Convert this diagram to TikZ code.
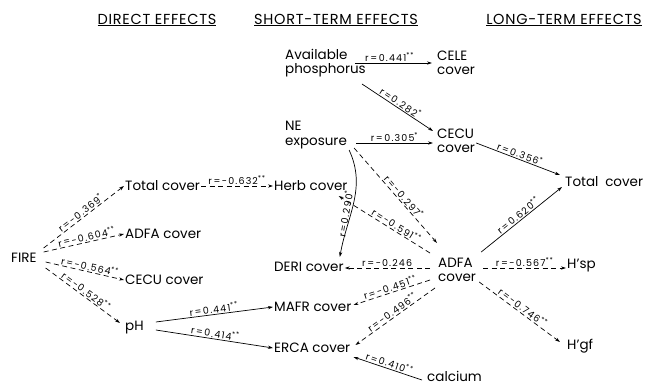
\documentclass[tikz,border=0pt]{standalone}
\usepackage{fontspec}
\setmainfont{Poppins}
\usetikzlibrary{arrows.meta,positioning}

\newcommand{\rval}[2]{r\,=\,#1\textsuperscript{#2}}

\begin{document}
\begin{tikzpicture}[x=1pt,y=-1pt,
  var/.style={font=\fontsize{13.5}{14.5}\selectfont,inner sep=1pt,align=left,anchor=west},
  head/.style={font=\fontsize{14.5}{15}\selectfont\addfontfeature{LetterSpace=5}},
  posarrow/.style={draw,line width=0.7pt,-{Stealth[length=5pt,width=3.2pt]}},
  negarrow/.style={posarrow,dash pattern=on 5pt off 3.5pt},
  rlabel/.style={font=\fontsize{9.5}{10}\selectfont\addfontfeature{LetterSpace=12},sloped,above,inner sep=1pt}]
  \useasboundingbox (0,0) rectangle (649,385);
  % column headings
  \node[head] (hdirect) at (157,20) {\underline{DIRECT EFFECTS}};
  \node[head] (hshort) at (336,20) {\underline{SHORT-TERM EFFECTS}};
  \node[head] (hlong) at (564,20) {\underline{LONG-TERM EFFECTS}};
  % variables
  \node[var] (fire) at (10,258) {FIRE};
  \node[var] (totL) at (124,186) {Total cover};
  \node[var] (adfaL) at (124,234) {ADFA cover};
  \node[var] (cecuL) at (124,280) {CECU cover};
  \node[var] (ph) at (124,328) {pH};
  \node[var] (herb) at (273,186) {Herb cover};
  \node[var] (avp) at (284,63) {Available\\phosphorus};
  \node[var] (cele) at (436,63) {CELE\\cover};
  \node[var] (ne) at (284,135) {NE\\exposure};
  \node[var] (cecuM) at (436,141) {CECU\\cover};
  \node[var] (deri) at (273,267) {DERI cover};
  \node[var] (adfaM) at (437,270) {ADFA\\cover};
  \node[var] (mafr) at (273,307) {MAFR cover};
  \node[var] (erca) at (273,348) {ERCA cover};
  \node[var] (calc) at (426,376) {calcium};
  \node[var] (totR) at (564,182) {Total\enspace cover};
  \node[var] (hsp) at (566,266) {H'sp};
  \node[var] (hgf) at (566,346) {H'gf};
  % direct effects of fire
  \draw[negarrow] ([shift={(6,-10)}]fire.east) -- node[rlabel]{\rval{-0.369}{*}} (totL.west);
  \draw[negarrow] ([shift={(6,-6)}]fire.east) -- node[rlabel,pos=0.55]{\rval{-0.604}{**}} (adfaL.west);
  \draw[negarrow] ([shift={(8,4)}]fire.east) -- node[rlabel,pos=0.55]{\rval{-0.564}{**}} (cecuL.west);
  \draw[negarrow] ([shift={(8,10)}]fire.east) -- node[rlabel]{\rval{-0.528}{**}} ([shift={(-4,-5)}]ph.west);
  % short-term effects
  \draw[negarrow] (totL.east) -- node[rlabel]{\rval{-0.632}{**}} (herb.west);
  \draw[posarrow] ([shift={(11,-6)}]ph.east) -- node[rlabel]{\rval{0.441}{**}} (mafr.west);
  \draw[posarrow] ([shift={(11,2)}]ph.east) -- node[rlabel]{\rval{0.414}{**}} (erca.west);
  \draw[posarrow] ([shift={(-12,0)}]avp.east) -- node[rlabel,pos=0.45]{\rval{0.441}{**}} ([shift={(-4,0)}]cele.west);
  \draw[posarrow] ([shift={(-5,21)}]avp.east) -- node[rlabel]{\rval{0.282}{*}} ([shift={(-3,-10)}]cecuM.west);
  \draw[posarrow] ([shift={(8,8)}]ne.east) -- node[rlabel]{\rval{0.305}{*}} ([shift={(-3,2)}]cecuM.west);
  \draw[negarrow] ([shift={(6,13)}]ne.east) -- node[rlabel,pos=0.55]{\rval{-0.297}{*}} ([shift={(0,-27)}]adfaM.west);
  \draw[posarrow] ([shift={(1,15)}]ne.east) to[out=-65,in=80]
    node[pos=0.62,rotate=80,anchor=south,font=\fontsize{9.5}{10}\selectfont\addfontfeature{LetterSpace=12},inner sep=1pt]{\rval{0.290}{*}}
    ([shift={(-5,-10)}]deri.east);
  \draw[negarrow] ([shift={(-7,-17)}]adfaM.west) -- node[rlabel,pos=0.4]{\rval{-0.591}{**}} ([shift={(-10,10)}]herb.east);
  \draw[negarrow] ([shift={(-7,-2)}]adfaM.west) -- node[rlabel]{\rval{-0.246}{}} ([shift={(0,1)}]deri.east);
  \draw[negarrow] ([shift={(-7,10)}]adfaM.west) -- node[rlabel]{\rval{-0.451}{**}} ([shift={(1,-2)}]mafr.east);
  \draw[negarrow] ([shift={(-2,18)}]adfaM.west) -- node[rlabel]{\rval{-0.496}{**}} ([shift={(4,-3)}]erca.east);
  \draw[posarrow] ([shift={(-4,4)}]calc.west) -- node[rlabel]{\rval{0.410}{**}} ([shift={(2,9)}]erca.east);
  % long-term effects
  \draw[posarrow] ([shift={(0,2)}]cecuM.east) -- node[rlabel]{\rval{0.356}{*}} ([shift={(-4,-7)}]totR.west);
  \draw[posarrow] ([shift={(4,-18)}]adfaM.east) -- node[rlabel]{\rval{0.620}{**}} ([shift={(-2,5)}]totR.west);
  \draw[negarrow] ([shift={(6,-2)}]adfaM.east) -- node[rlabel]{\rval{-0.567}{**}} ([shift={(0,2)}]hsp.west);
  \draw[negarrow] ([shift={(2,12)}]adfaM.east) -- node[rlabel]{\rval{-0.746}{**}} ([shift={(-6,-4)}]hgf.west);
\end{tikzpicture}
\end{document}
